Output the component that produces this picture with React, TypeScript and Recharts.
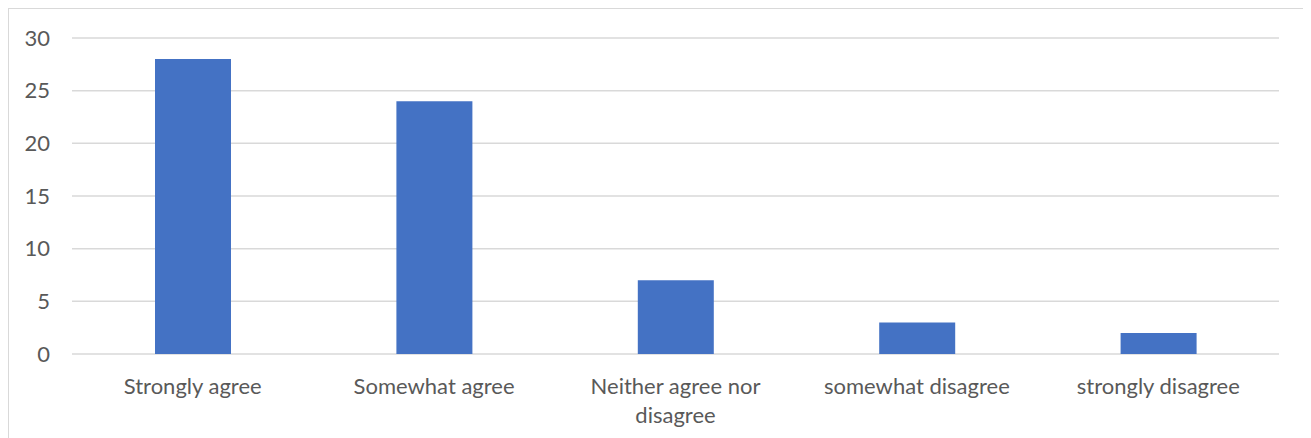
import { BarChart, Bar, XAxis, YAxis, CartesianGrid } from 'recharts';

const categories = ['Strongly agree', 'Somewhat agree', 'Neither agree nor disagree', 'somewhat disagree', 'strongly disagree'];
const counts = [28, 24, 7, 3, 2];
const yTicks = [0, 5, 10, 15, 20, 25, 30];

const data = categories.map((name, i) => ({ name, count: counts[i] }));

const FONT = 'Lato, "Open Sans", sans-serif';
const MAX_CHARS = 20;

// greedy word wrap so long category names break like the original
function wrap(label: string) {
  const lines: string[] = [];
  let cur = '';
  for (const w of label.split(' ')) {
    const next = cur ? cur + ' ' + w : w;
    if (next.length > MAX_CHARS && cur) {
      lines.push(cur);
      cur = w;
    } else {
      cur = next;
    }
  }
  if (cur) lines.push(cur);
  return lines;
}

function CategoryTick(props: any) {
  const { x, y, payload } = props;
  const lines = wrap(String(payload.value));
  return (
    <text
      x={x}
      y={y + 32}
      textAnchor="middle"
      fill="#595959"
      fontSize={22}
      fontFamily={FONT}
    >
      {lines.map((l, i) => (
        <tspan key={i} x={x} dy={i === 0 ? 0 : 29}>
          {l}
        </tspan>
      ))}
    </text>
  );
}

export default function App() {
  return (
    <div
      style={{
        width: 1298,
        height: 440,
        border: '1px solid #d9d9d9',
        boxSizing: 'border-box',
        background: '#fff',
      }}
    >
      <BarChart
        width={1296}
        height={438}
        data={data}
        margin={{ top: 29, right: 26, left: 0, bottom: 0 }}
      >
        <CartesianGrid vertical={false} stroke="#d9d9d9" strokeWidth={1.5} />
        <XAxis
          dataKey="name"
          axisLine={false}
          tickLine={false}
          height={93}
          interval={0}
          tick={<CategoryTick />}
        />
        <YAxis
          width={63}
          domain={[0, 30]}
          ticks={yTicks}
          axisLine={false}
          tickLine={false}
          tickSize={0}
          tickMargin={22}
          tick={{ fill: '#595959', fontSize: 22, fontFamily: FONT }}
        />
        <Bar dataKey="count" fill="#4472C4" barSize={76} isAnimationActive={false} />
      </BarChart>
    </div>
  );
}
